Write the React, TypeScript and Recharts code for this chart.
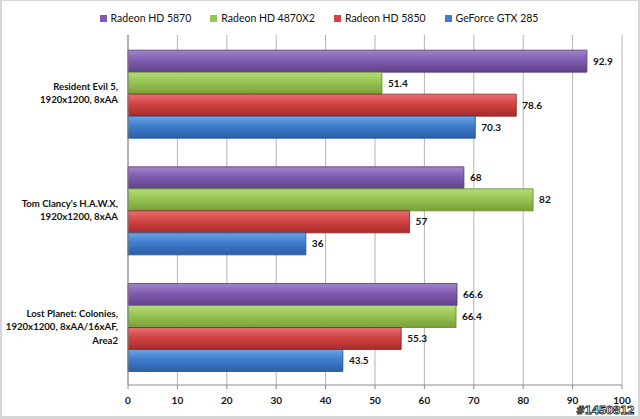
import { BarChart, Bar, XAxis, YAxis, CartesianGrid, LabelList } from "recharts";

const games = [
  "Resident Evil 5,\n1920x1200, 8xAA",
  "Tom Clancy's H.A.W.X,\n1920x1200, 8xAA",
  "Lost Planet: Colonies,\n1920x1200, 8xAA/16xAF,\nArea2",
];
const hd5870 = [92.9, 68, 66.6];
const hd4870x2 = [51.4, 82, 66.4];
const hd5850 = [78.6, 57, 55.3];
const gtx285 = [70.3, 36, 43.5];
const xTicks = [0, 10, 20, 30, 40, 50, 60, 70, 80, 90, 100];

const series = [
  { key: "hd5870", name: "Radeon HD 5870", top: "#a285cc", mid: "#7f5caf", bottom: "#5f4289", stroke: "#4f3775" },
  { key: "hd4870x2", name: "Radeon HD 4870X2", top: "#b5dc78", mid: "#98c453", bottom: "#789f37", stroke: "#64872b" },
  { key: "hd5850", name: "Radeon HD 5850", top: "#e77070", mid: "#d24343", bottom: "#a82a2a", stroke: "#8c2020" },
  { key: "gtx285", name: "GeForce GTX 285", top: "#6ea3e6", mid: "#3f7dcc", bottom: "#2a5fa6", stroke: "#1f4d8c" },
];

const data = games.map((g, i) => ({
  game: g,
  hd5870: hd5870[i],
  hd4870x2: hd4870x2[i],
  hd5850: hd5850[i],
  gtx285: gtx285[i],
}));

const font = "Lato, 'Open Sans', sans-serif";

function GameTick(props: any) {
  const { x, y, payload } = props;
  const lines = String(payload.value).split("\n");
  const lh = 13.5;
  const start = y - ((lines.length - 1) * lh) / 2;
  return (
    <text x={x} y={start} textAnchor="end" fontSize={9.6} fontWeight={700} fill="#111" fontFamily={font}>
      {lines.map((l, i) => (
        <tspan key={i} x={x} y={start + i * lh} dy="0.35em">
          {l}
        </tspan>
      ))}
    </text>
  );
}

export default function App() {
  return (
    <div
      style={{
        position: "fixed",
        left: 0,
        top: 0,
        width: 640,
        height: 419,
        boxSizing: "border-box",
        background: "#fff",
        borderStyle: "solid",
        borderColor: "#d6d6d6",
        borderWidth: "1px 2px 3px 2px",
        fontFamily: font,
      }}
    >
      <div
        style={{
          position: "absolute",
          left: 0,
          right: 0,
          top: 11,
          display: "flex",
          justifyContent: "center",
          gap: 19,
          fontSize: 10.5,
          color: "#111",
          paddingRight: 2,
        }}
      >
        {series.map((s) => (
          <div key={s.key} style={{ display: "flex", alignItems: "center", gap: 4 }}>
            <span style={{ width: 7, height: 7, background: s.mid, display: "inline-block" }} />
            <span>{s.name}</span>
          </div>
        ))}
      </div>
      <BarChart
        width={636}
        height={415}
        data={data}
        layout="vertical"
        margin={{ top: 34, right: 16, bottom: 0, left: 0 }}
        barCategoryGap="13%"
        barGap={0}
      >
        <defs>
          {series.map((s) => (
            <linearGradient key={s.key} id={`g-${s.key}`} x1="0" y1="0" x2="0" y2="1">
              <stop offset="0%" stopColor={s.top} />
              <stop offset="45%" stopColor={s.mid} />
              <stop offset="100%" stopColor={s.bottom} />
            </linearGradient>
          ))}
        </defs>
        <CartesianGrid horizontal={false} stroke="#b4b4b4" />
        <XAxis
          type="number"
          domain={[0, 100]}
          ticks={xTicks}
          height={31}
          tickSize={4}
          tickMargin={8}
          stroke="#8c8c8c"
          tick={{ fontSize: 10, fontWeight: 700, fill: "#111", fontFamily: font }}
          interval={0}
        />
        <YAxis
          type="category"
          dataKey="game"
          width={126}
          tickSize={4}
          tickMargin={6}
          tickLine={false}
          stroke="#8c8c8c"
          tick={<GameTick />}
          interval={0}
        />
        {series.map((s) => (
          <Bar
            key={s.key}
            dataKey={s.key}
            name={s.name}
            fill={`url(#g-${s.key})`}
            stroke={s.stroke}
            strokeWidth={0.8}
            isAnimationActive={false}
          >
            <LabelList
              dataKey={s.key}
              position="right"
              offset={6}
              fontSize={10}
              fontWeight={700}
              fill="#111"
              fontFamily={font}
            />
          </Bar>
        ))}
      </BarChart>
      <div
        style={{
          position: "absolute",
          left: 574,
          top: 403,
          fontSize: 11,
          fontWeight: 700,
          color: "#fff",
          WebkitTextStroke: "0.8px #111",
          fontFamily: "'DejaVu Sans', sans-serif",
          letterSpacing: -0.6,
          whiteSpace: "nowrap",
        }}
      >
        #1450812
      </div>
    </div>
  );
}
